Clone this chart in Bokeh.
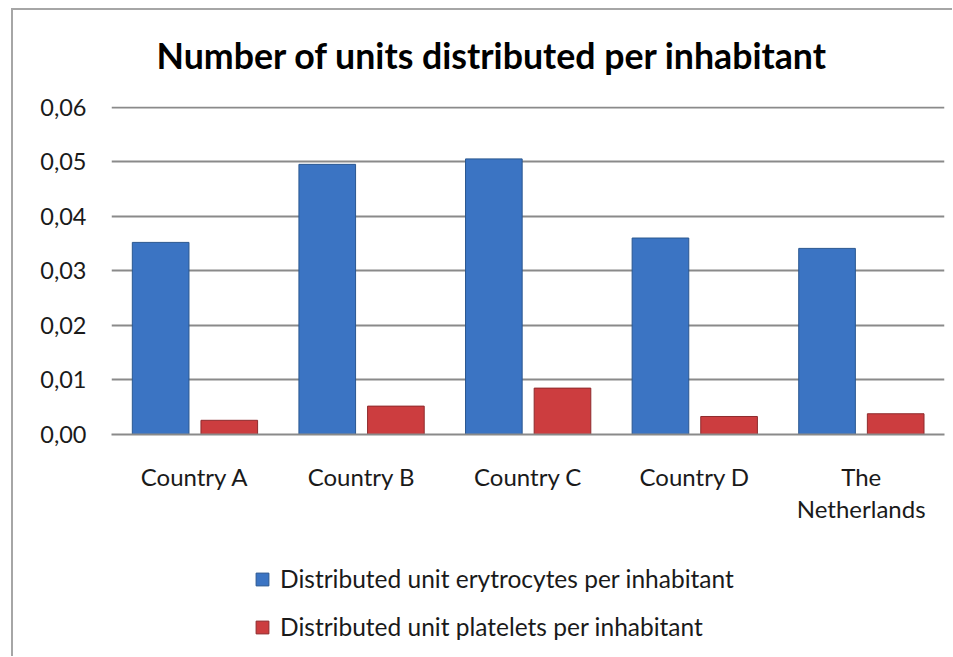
from bokeh.plotting import figure
from bokeh.layouts import column
from bokeh.models import (FactorRange, FixedTicker, CustomJSTickFormatter,
                          Legend, LegendItem, ColumnDataSource, Range1d)
from bokeh.transform import dodge
from bokeh.embed import file_html
from bokeh.resources import INLINE

categories = ["Country A", "Country B", "Country C", "Country D", "The\nNetherlands"]
erytrocytes = [0.0352, 0.0495, 0.0505, 0.0360, 0.0341]
platelets = [0.0026, 0.0052, 0.0085, 0.0033, 0.0038]
y_ticks = [0.0, 0.01, 0.02, 0.03, 0.04, 0.05, 0.06]
title_text = "Number of units distributed per inhabitant"
series_names = ["Distributed unit erytrocytes per inhabitant",
                "Distributed unit platelets per inhabitant"]

FONT = "Lato"
TXT = "#1a1a1a"
BLUE, BLUE_EDGE = "#3b74c3", "#2a5790"
RED, RED_EDGE = "#cc3d3f", "#8e2b2d"

src = ColumnDataSource(dict(cat=categories, ery=erytrocytes, pla=platelets))

p = figure(width=952, height=540, x_range=FactorRange(*categories), y_range=(0, 0.0601),
           output_backend="svg", toolbar_location=None,
           min_border_left=111, min_border_right=8, min_border_top=106, min_border_bottom=106)
p.outline_line_color = None
p.background_fill_color = "white"
p.border_fill_color = None

p.vbar(x=dodge("cat", -0.205, range=p.x_range), top="ery", width=0.34, source=src,
       fill_color=BLUE, line_color=BLUE_EDGE, line_width=1)
p.vbar(x=dodge("cat", 0.207, range=p.x_range), top="pla", width=0.34, source=src,
       fill_color=RED, line_color=RED_EDGE, line_width=1)

p.title.text = title_text
p.title.align = "left"
p.title.offset = 45
p.title.standoff = 59
p.title.text_font = FONT
p.title.text_font_style = "bold"
p.title.text_font_size = "35.7px"
p.title.text_color = "black"

p.yaxis.ticker = FixedTicker(ticks=y_ticks)
p.yaxis.formatter = CustomJSTickFormatter(code="return tick.toFixed(2).replace('.', ',');")
p.yaxis.axis_line_color = None
p.yaxis.major_tick_line_color = None
p.yaxis.minor_tick_line_color = None
p.yaxis.major_label_standoff = 19
p.yaxis.major_label_text_font = FONT
p.yaxis.major_label_text_font_size = "23.5px"
p.yaxis.major_label_text_color = TXT

p.xaxis.axis_line_color = "#8a8a8a"
p.xaxis.axis_line_width = 2
p.xaxis.major_tick_line_color = None
p.xaxis.minor_tick_line_color = None
p.xaxis.major_label_standoff = 21
p.xaxis.major_label_text_font = FONT
p.xaxis.major_label_text_font_size = "24px"
p.xaxis.major_label_text_color = TXT
p.xaxis.major_label_text_line_height = 1.12

p.xgrid.grid_line_color = None
p.ygrid.grid_line_color = "#8a8a8a"
p.ygrid.grid_line_width = 2

# legend strip below the chart (its own frame, so the legend is not clipped);
# it shares the categories and draws the same series out of its visible range
lg = figure(width=952, height=116, x_range=p.x_range, y_range=Range1d(1, 2),
            x_axis_type=None, y_axis_type=None, output_backend="svg",
            toolbar_location=None, min_border=0)
lg.outline_line_color = None
lg.background_fill_color = None
lg.border_fill_color = None
lg.grid.visible = False
lr1 = lg.vbar(x=dodge("cat", -0.205, range=lg.x_range), top="ery", width=0.34, source=src,
              fill_color=BLUE, line_color=BLUE_EDGE)
lr2 = lg.vbar(x=dodge("cat", 0.207, range=lg.x_range), top="pla", width=0.34, source=src,
              fill_color=RED, line_color=RED_EDGE)

legend = Legend(items=[LegendItem(label=series_names[0], renderers=[lr1]),
                       LegendItem(label=series_names[1], renderers=[lr2])],
                location=(143, 15), orientation="vertical",
                glyph_width=16, glyph_height=16, label_height=26, spacing=19,
                label_standoff=10, padding=0, margin=0,
                border_line_color=None, background_fill_color=None,
                label_text_font=FONT, label_text_font_size="24.5px",
                label_text_color=TXT)
lg.add_layout(legend, "center")

line = "linear-gradient(#a6a6a6, #a6a6a6)"
layout = column(p, lg, spacing=0, styles={
    "background": f"{line} 11px 8px / 2px calc(100% - 8px) no-repeat, "
                  f"{line} 11px 8px / calc(100% - 11px) 2px no-repeat, white"})

open("out.html", "w").write(file_html(layout, INLINE))
